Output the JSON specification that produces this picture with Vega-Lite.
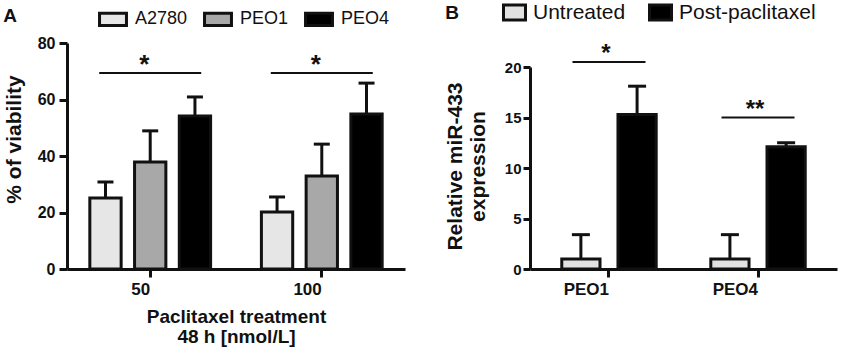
{
  "$schema": "https://vega.github.io/schema/vega-lite/v6.json",
  "background": "white",
  "padding": {"left": 3, "top": 0, "right": 5, "bottom": 5},
  "bounds": "flush",
  "spacing": 125,
  "resolve": {
    "scale": {"x": "independent", "y": "independent", "xOffset": "independent", "fill": "independent"},
    "legend": {"fill": "independent"}
  },
  "config": {
    "font": "Liberation Sans",
    "view": {"stroke": null},
    "axis": {
      "domainColor": "#111", "domainWidth": 3, "tickColor": "#111", "tickWidth": 3, "tickSize": 8,
      "labelFont": "Liberation Sans", "labelFontWeight": "bold", "labelColor": "#111", "labelFontSize": 16,
      "titleFont": "Liberation Sans", "titleFontWeight": "bold", "titleColor": "#111", "titleFontSize": 21,
      "grid": false
    },
    "legend": {"padding": 0, "labelFont": "Liberation Sans", "labelColor": "#111", "symbolStrokeColor": "#111", "symbolStrokeWidth": 3, "symbolOpacity": 1},
    "title": {"font": "Liberation Sans", "fontWeight": "bold", "fontSize": 19, "color": "#111"}
  },
  "datasets": {
    "viability": [
      {"dose": "50", "line": "A2780", "v": 25.1, "err": 30.8},
      {"dose": "50", "line": "PEO1", "v": 37.9, "err": 48.9},
      {"dose": "50", "line": "PEO4", "v": 54.2, "err": 60.9},
      {"dose": "100", "line": "A2780", "v": 20.2, "err": 25.5},
      {"dose": "100", "line": "PEO1", "v": 32.9, "err": 44.2},
      {"dose": "100", "line": "PEO4", "v": 54.9, "err": 65.8}
    ],
    "sigA": [
      {"dose": "50", "y": 69.4, "label": "*"},
      {"dose": "100", "y": 69.4, "label": "*"}
    ],
    "expr": [
      {"cell": "PEO1", "cond": "Untreated", "v": 1.0, "err": 3.4},
      {"cell": "PEO1", "cond": "Post-paclitaxel", "v": 15.3, "err": 18.1},
      {"cell": "PEO4", "cond": "Untreated", "v": 1.0, "err": 3.4},
      {"cell": "PEO4", "cond": "Post-paclitaxel", "v": 12.1, "err": 12.5}
    ],
    "sigB": [
      {"cell": "PEO1", "y": 20.5, "label": "*"},
      {"cell": "PEO4", "y": 15.0, "label": "**"}
    ]
  },
  "hconcat": [
    {
      "width": 338,
      "height": 226,
      "title": {"text": "A", "anchor": "start", "frame": "bounds", "dy": 25},
      "layer": [
        {
          "data": {"name": "viability"},
          "mark": {"type": "rule", "color": "#111", "strokeWidth": 3},
          "encoding": {
            "x": {"field": "dose", "type": "nominal", "sort": ["50", "100"]},
            "xOffset": {"field": "line", "type": "nominal", "sort": ["A2780", "PEO1", "PEO4"]},
            "y": {"field": "v", "type": "quantitative"},
            "y2": {"field": "err"}
          }
        },
        {
          "data": {"name": "viability"},
          "mark": {"type": "tick", "color": "#111", "thickness": 3, "size": 16, "opacity": 1},
          "encoding": {
            "x": {"field": "dose", "type": "nominal", "sort": ["50", "100"]},
            "xOffset": {"field": "line", "type": "nominal", "sort": ["A2780", "PEO1", "PEO4"]},
            "y": {"field": "err", "type": "quantitative"}
          }
        },
        {
          "data": {"name": "viability"},
          "mark": {"type": "bar", "stroke": "#111", "strokeWidth": 3, "opacity": 1, "strokeOpacity": 1},
          "encoding": {
            "x": {"field": "dose", "type": "nominal", "sort": ["50", "100"],
              "scale": {"paddingInner": 0.27, "paddingOuter": 0.12},
              "axis": {"title": ["Paclitaxel treatment", "48 h [nmol/L]"], "titleFontSize": 19, "labelAngle": 0, "labelFontSize": 17, "labelPadding": 12, "titlePadding": 10, "titleLineHeight": 20}},
            "xOffset": {"field": "line", "type": "nominal", "sort": ["A2780", "PEO1", "PEO4"],
              "scale": {"paddingInner": 0.3, "paddingOuter": 0.05}},
            "y": {"field": "v", "type": "quantitative",
              "scale": {"domain": [0, 80], "nice": false},
              "axis": {"values": [0, 20, 40, 60, 80], "title": "% of viability", "labelPadding": 4, "titlePadding": 13, "titleY": 96}},
            "fill": {"field": "line", "type": "nominal",
              "scale": {"domain": ["A2780", "PEO1", "PEO4"], "range": ["#e6e6e6", "#a8a8a8", "#000000"]},
              "legend": {"orient": "none", "legendX": 32, "legendY": -38, "direction": "horizontal", "title": null,
                "symbolType": "M-1.1,-0.5H1.1V0.5H-1.1Z", "symbolSize": 600, "labelFontSize": 18,
                "labelOffset": 8, "columnPadding": 10}}
          }
        },
        {
          "data": {"name": "sigA"},
          "mark": {"type": "tick", "color": "#111", "thickness": 2, "size": 102, "opacity": 1},
          "encoding": {
            "x": {"field": "dose", "type": "nominal", "sort": ["50", "100"]},
            "y": {"field": "y", "type": "quantitative"}
          }
        },
        {
          "data": {"name": "sigA"},
          "mark": {"type": "text", "fontSize": 26, "fontWeight": "bold", "color": "#111", "baseline": "alphabetic", "dx": -6, "dy": 0},
          "encoding": {
            "x": {"field": "dose", "type": "nominal", "sort": ["50", "100"]},
            "y": {"field": "y", "type": "quantitative"},
            "text": {"field": "label"}
          }
        }
      ]
    },
    {
      "width": 307,
      "height": 226,
      "title": {"text": "B", "anchor": "start", "frame": "bounds", "dy": 27, "dx": 1},
      "layer": [
        {
          "data": {"name": "expr"},
          "mark": {"type": "rule", "color": "#111", "strokeWidth": 3},
          "encoding": {
            "x": {"field": "cell", "type": "nominal", "sort": ["PEO1", "PEO4"]},
            "xOffset": {"field": "cond", "type": "nominal", "sort": ["Untreated", "Post-paclitaxel"]},
            "y": {"field": "v", "type": "quantitative"},
            "y2": {"field": "err"}
          }
        },
        {
          "data": {"name": "expr"},
          "mark": {"type": "tick", "color": "#111", "thickness": 3, "size": 18, "opacity": 1},
          "encoding": {
            "x": {"field": "cell", "type": "nominal", "sort": ["PEO1", "PEO4"]},
            "xOffset": {"field": "cond", "type": "nominal", "sort": ["Untreated", "Post-paclitaxel"]},
            "y": {"field": "err", "type": "quantitative"}
          }
        },
        {
          "data": {"name": "expr"},
          "mark": {"type": "bar", "stroke": "#111", "strokeWidth": 3, "opacity": 1, "strokeOpacity": 1},
          "encoding": {
            "x": {"field": "cell", "type": "nominal", "sort": ["PEO1", "PEO4"],
              "scale": {"paddingInner": 0.34, "paddingOuter": 0.2},
              "axis": {"title": null, "labelAngle": 0, "labelFontSize": 17, "labelPadding": 12}},
            "xOffset": {"field": "cond", "type": "nominal", "sort": ["Untreated", "Post-paclitaxel"],
              "scale": {"paddingInner": 0.32, "paddingOuter": 0.035}},
            "y": {"field": "v", "type": "quantitative",
              "scale": {"domain": [0, 20], "nice": false, "range": [226, 24]},
              "axis": {"values": [0, 5, 10, 15, 20], "title": ["Relative miR-433", "expression"], "labelFontSize": 15, "tickSize": 7, "labelPadding": 2, "titlePadding": 16, "titleLineHeight": 23, "titleY": 123}},
            "fill": {"field": "cond", "type": "nominal",
              "scale": {"domain": ["Untreated", "Post-paclitaxel"], "range": ["#e2e2e2", "#000000"]},
              "legend": {"orient": "none", "legendX": -28, "legendY": -43, "direction": "horizontal", "title": null,
                "symbolType": "M-1,-0.68H1V0.68H-1Z", "symbolSize": 484, "labelFontSize": 21,
                "labelOffset": 6, "columnPadding": 17}}
          }
        },
        {
          "data": {"name": "sigB"},
          "mark": {"type": "tick", "color": "#111", "thickness": 2, "size": 73, "opacity": 1},
          "encoding": {
            "x": {"field": "cell", "type": "nominal", "sort": ["PEO1", "PEO4"]},
            "y": {"field": "y", "type": "quantitative"}
          }
        },
        {
          "data": {"name": "sigB"},
          "mark": {"type": "text", "fontSize": 24, "fontWeight": "bold", "color": "#111", "baseline": "alphabetic", "dx": -3, "dy": -1},
          "encoding": {
            "x": {"field": "cell", "type": "nominal", "sort": ["PEO1", "PEO4"]},
            "y": {"field": "y", "type": "quantitative"},
            "text": {"field": "label"}
          }
        }
      ]
    }
  ]
}
